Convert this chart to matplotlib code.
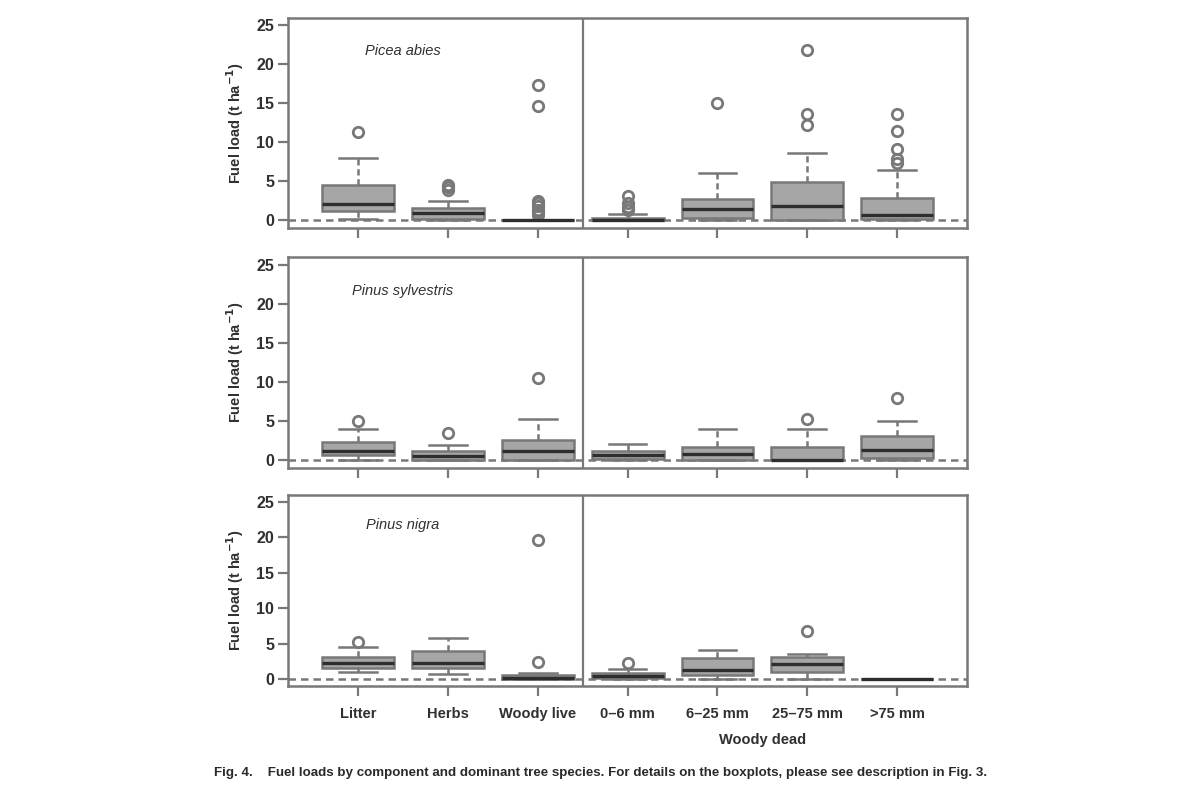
import matplotlib
matplotlib.use("Agg")
import matplotlib.pyplot as plt

categories = ["Litter", "Herbs", "Woody live", "0–6 mm", "6–25 mm", "25–75 mm", ">75 mm"]
species = ["Picea abies", "Pinus sylvestris", "Pinus nigra"]

# Picea abies
pa_q1 = [1.15, 0.2, 0.0, 0.0, 0.25, 0.0, 0.1]
pa_med = [2.1, 0.9, 0.0, 0.05, 1.4, 1.85, 0.65]
pa_q3 = [4.5, 1.6, 0.05, 0.25, 2.7, 4.9, 2.8]
pa_wlo = [0.1, 0.0, 0.0, 0.0, 0.0, 0.0, 0.0]
pa_whi = [8.0, 2.5, 0.0, 0.85, 6.1, 8.6, 6.4]
pa_fliers = [[11.3], [3.9, 4.2, 4.5], [17.3, 14.6, 2.5, 2.2, 1.8, 1.3, 1.0, 0.7],
             [3.1, 2.2, 1.7, 1.3], [15.0], [21.9, 13.6, 12.2], [13.6, 11.5, 9.1, 7.8, 7.3]]

# Pinus sylvestris
ps_q1 = [0.65, 0.0, 0.0, 0.1, 0.0, 0.0, 0.3]
ps_med = [1.15, 0.5, 1.15, 0.6, 0.8, 0.0, 1.3]
ps_q3 = [2.3, 1.15, 2.6, 1.15, 1.7, 1.7, 3.1]
ps_wlo = [0.0, 0.0, 0.0, 0.0, 0.0, 0.0, 0.0]
ps_whi = [4.0, 1.9, 5.2, 2.0, 4.0, 3.9, 5.0]
ps_fliers = [[5.0], [3.5], [10.5], [], [], [5.3], [7.9]]

# Pinus nigra
pn_q1 = [1.6, 1.6, 0.0, 0.2, 0.55, 0.95, 0.0]
pn_med = [2.3, 2.3, 0.1, 0.4, 1.2, 2.1, 0.0]
pn_q3 = [3.1, 3.9, 0.55, 0.8, 2.9, 3.1, 0.05]
pn_wlo = [1.0, 0.7, 0.0, 0.0, 0.0, 0.0, 0.0]
pn_whi = [4.5, 5.85, 0.8, 1.4, 4.1, 3.5, 0.05]
pn_fliers = [[5.2], [], [19.6, 2.45], [2.3], [], [6.8], []]

yticks = [0, 5, 10, 15, 20, 25]
caption = ("Fig. 4.    Fuel loads by component and dominant tree species. "
           "For details on the boxplots, please see description in Fig. 3.")

plt.rcParams['font.family'] = ['Liberation Sans', 'DejaVu Sans']

EDGE = "#787878"
FILL = "#a6a6a6"
MED = "#2e2e2e"
TXT = "#303030"

fig = plt.figure(figsize=(12, 8), dpi=100)

panels = [
    (species[0], pa_q1, pa_med, pa_q3, pa_wlo, pa_whi, pa_fliers, [0.24, 0.715, 0.566, 0.263]),
    (species[1], ps_q1, ps_med, ps_q3, ps_wlo, ps_whi, ps_fliers, [0.24, 0.4154, 0.566, 0.2634]),
    (species[2], pn_q1, pn_med, pn_q3, pn_wlo, pn_whi, pn_fliers, [0.24, 0.1425, 0.566, 0.2388]),
]

for idx, (name, q1, med, q3, wlo, whi, fl, rect) in enumerate(panels):
    ax = fig.add_axes(rect)
    stats = []
    for i in range(len(categories)):
        stats.append(dict(med=med[i], q1=q1[i], q3=q3[i], whislo=wlo[i],
                          whishi=whi[i], fliers=fl[i], label=categories[i]))
    ax.axhline(0, color=EDGE, lw=1.8, ls=(0, (3, 2)), zorder=1)
    ax.bxp(stats, positions=range(1, 8), widths=0.8, patch_artist=True,
           showfliers=True,
           boxprops=dict(facecolor=FILL, edgecolor=EDGE, linewidth=1.8),
           medianprops=dict(color=MED, linewidth=2.4),
           whiskerprops=dict(color=EDGE, linewidth=1.8, linestyle=(0, (2.5, 1.5))),
           capprops=dict(color=EDGE, linewidth=1.8),
           capwidths=0.42,
           flierprops=dict(marker='o', markerfacecolor='none', markeredgecolor=EDGE,
                           markeredgewidth=2.0, markersize=7.5),
           zorder=3)
    ax.axvline(3.5, color=EDGE, lw=1.6, zorder=2)
    ax.set_xlim(0.22, 7.78)
    ax.set_ylim(-1, 26)
    ax.set_yticks(yticks)
    ax.set_yticklabels([str(t) for t in yticks], fontsize=11.5, fontweight='bold', color=TXT)
    ax.tick_params(axis='both', length=7, width=1.6, color=EDGE, pad=3)
    ax.set_xticks(range(1, 8))
    if idx == 2:
        ax.set_xticklabels(categories, fontsize=10.5, fontweight='bold', color=TXT)
        ax.tick_params(axis='x', pad=8)
    else:
        ax.set_xticklabels([])
    for s in ax.spines.values():
        s.set_color(EDGE)
        s.set_linewidth(1.8)
    ax.set_ylabel("Fuel load (t ha$^{\\mathbf{-1}}$)", fontsize=10.5, fontweight='bold',
                  color=TXT, labelpad=7)
    ax.text(1.5, 21.7, name, style='italic', fontsize=10.5, ha='center', va='center',
            color=TXT)
    if idx == 2:
        ax.text(5.5, -8.6, "Woody dead", fontsize=10.5, fontweight='bold', ha='center',
                va='center', color=TXT)

fig.text(0.178, 1 - 773 / 800, caption, fontsize=9.6, fontweight='bold',
         ha='left', va='center', color="#2a2a2a")

fig.savefig("out.png", dpi=100)
